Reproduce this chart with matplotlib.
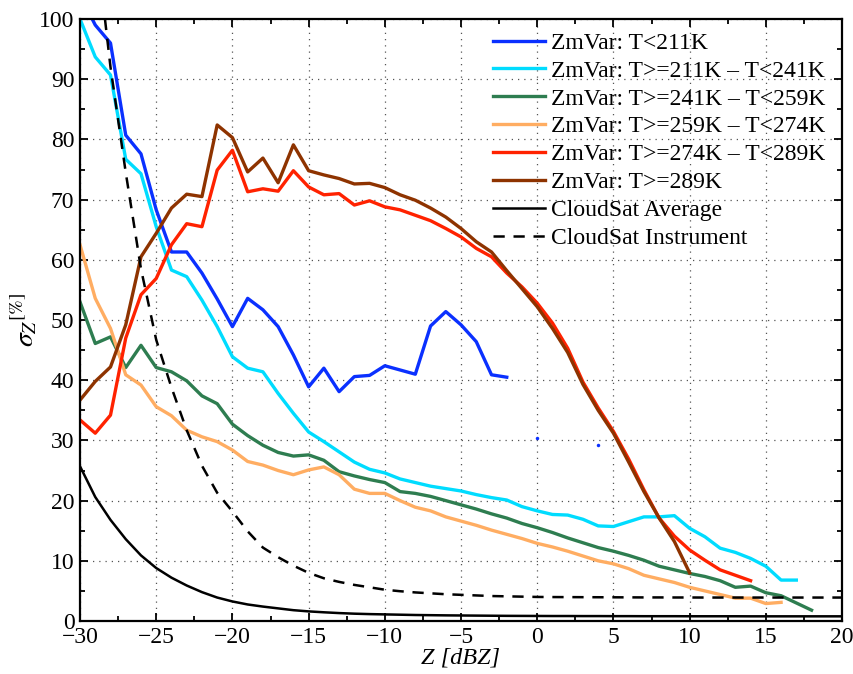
import numpy as np
import matplotlib
matplotlib.use("Agg")
import matplotlib.pyplot as plt
from matplotlib.ticker import MultipleLocator

plt.rcParams["font.family"] = ["Liberation Serif", "DejaVu Serif"]
plt.rcParams["mathtext.fontset"] = "stix"

# reflectivity bins (dBZ) for each temperature class
z_211 = np.arange(-30, 5)
z_241 = np.arange(-30, 18)
z_259 = np.arange(-30, 19)
z_274 = np.arange(-30, 17)
z_289 = np.arange(-30, 15)
z_hot = np.arange(-30, 11)
z_cs = np.arange(-30, 21)

# relative std dev of Z [%]
s_211 = [104, 99, 96, 80.7, 77.6, 68.3, 61.3, 61.3, 57.8, 53.5,
         48.9, 53.6, 51.7, 48.9, 44.2, 38.9, 42, 38.1, 40.6, 40.8,
         42.4, 41.7, 41, 49, 51.4, 49.2, 46.4, 40.9, 40.5, np.nan,
         30.4, np.nan, np.nan, np.nan, 29.3]
s_241 = [100, 93.7, 90.7, 76.7, 74.3, 65.5, 58.3, 57.2, 53.3, 48.9,
         43.9, 42, 41.4, 37.8, 34.5, 31.4, 29.8, 28.1, 26.4, 25.2,
         24.6, 23.6, 23, 22.4, 22, 21.6, 21, 20.5, 20.1, 19,
         18.3, 17.7, 17.6, 16.9, 15.8, 15.7, 16.5, 17.3, 17.3, 17.5,
         15.4, 14, 12.1, 11.4, 10.4, 9.1, 6.8, 6.8]
s_259 = [53, 46.1, 47.2, 42.1, 45.8, 42.1, 41.4, 39.9, 37.4, 36.1,
         32.7, 30.8, 29.2, 28, 27.4, 27.6, 26.7, 24.8, 24.1, 23.5,
         23, 21.5, 21.2, 20.7, 20, 19.3, 18.6, 17.8, 17.1, 16.2,
         15.5, 14.7, 13.8, 13, 12.2, 11.6, 10.9, 10.1, 9.1, 8.5,
         7.9, 7.4, 6.7, 5.6, 5.8, 4.7, 4.2, 3, 1.8]
s_274 = [62.5, 53.6, 48.6, 40.9, 39.2, 35.6, 34.1, 31.7, 30.6, 29.8,
         28.4, 26.5, 25.9, 25, 24.3, 25.1, 25.6, 24.3, 21.9, 21.2,
         21.2, 20, 18.9, 18.3, 17.3, 16.6, 15.9, 15.1, 14.4, 13.7,
         12.9, 12.3, 11.6, 10.8, 10, 9.5, 8.7, 7.6, 7.0, 6.4,
         5.6, 5.0, 4.4, 3.8, 3.8, 2.9, 3.1]
s_289 = [33.4, 31.2, 34.2, 47, 54.2, 56.9, 62.5, 66, 65.5, 74.9,
         78.2, 71.3, 71.8, 71.4, 74.8, 72.1, 70.8, 71, 69.1, 69.8,
         68.8, 68.3, 67.4, 66.5, 65.2, 63.8, 61.9, 60.5, 57.8, 55.5,
         52.8, 49.5, 45.3, 39.7, 35.4, 31.5, 26.9, 21.8, 17.1, 14.1,
         11.8, 10.1, 8.5, 7.6, 6.7]
s_hot = [36.7, 39.8, 42.2, 49.2, 60.5, 64.4, 68.6, 70.9, 70.5, 82.4,
         80.3, 74.6, 76.9, 72.8, 79.1, 74.8, 74.1, 73.5, 72.6, 72.7,
         72, 70.8, 69.9, 68.6, 67.1, 65.2, 63, 61.3, 58.2, 55.2,
         52.2, 48.6, 44.6, 39.3, 35, 31.2, 26.4, 21.5, 17.1, 13.2,
         8.0]
s_avg = [25.7, 20.6, 16.8, 13.6, 10.9, 8.8, 7.2, 5.9, 4.8, 3.9,
         3.25, 2.75, 2.4, 2.1, 1.8, 1.6, 1.45, 1.32, 1.22, 1.15,
         1.1, 1.05, 1.0, 0.97, 0.94, 0.92, 0.9, 0.88, 0.86, 0.85,
         0.84, 0.83, 0.83, 0.82, 0.82, 0.81, 0.81, 0.8, 0.8, 0.8,
         0.79, 0.79, 0.79, 0.79, 0.78, 0.78, 0.78, 0.78, 0.78, 0.78,
         0.78]
s_inst = [141, 114, 92, 74.5, 58.5, 46.7, 38.8, 31.7, 25.8, 21.3,
          18.2, 14.9, 12.2, 10.6, 9.2, 8.0, 7.1, 6.5, 6.0, 5.6,
          5.2, 4.95, 4.75, 4.6, 4.45, 4.35, 4.25, 4.15, 4.1, 4.05,
          4.0, 3.98, 3.97, 3.96, 3.95, 3.94, 3.93, 3.92, 3.92, 3.91,
          3.91, 3.9, 3.9, 3.9, 3.9, 3.9, 3.9, 3.9, 3.9, 3.9,
          3.9]

labels = ["ZmVar: T<211K", "ZmVar: T>=211K \u2013 T<241K",
          "ZmVar: T>=241K \u2013 T<259K", "ZmVar: T>=259K \u2013 T<274K",
          "ZmVar: T>=274K \u2013 T<289K", "ZmVar: T>=289K",
          "CloudSat Average", "CloudSat Instrument"]
colors = ["#0a30ff", "#00dcff", "#2e7d50", "#ffad62", "#ff2200", "#8e3300"]

fig = plt.figure(figsize=(8.54, 6.74), dpi=100)
ax = fig.add_axes([0.0937, 0.0786, 0.8923, 0.8932])

series = [(z_211, s_211), (z_241, s_241), (z_259, s_259),
          (z_274, s_274), (z_289, s_289), (z_hot, s_hot)]
for (zz, ss), c, lab in zip(series, colors, labels):
    ax.plot(zz, ss, color=c, lw=2.4, label=lab)

# lone blue bins that have no neighbours to join to
s = np.array(s_211, dtype=float)
prev = np.r_[np.nan, s[:-1]]
nxt = np.r_[s[1:], np.nan]
lone = ~np.isnan(s) & np.isnan(prev) & np.isnan(nxt)
ax.plot(z_211[lone], s[lone], "o", color=colors[0], ms=2.5, mec="none")

ax.plot(z_cs, s_avg, color="black", lw=1.8, label=labels[6])
ax.plot(z_cs, s_inst, color="black", lw=1.8, ls=(0, (4.5, 3.5)),
        label=labels[7])

ax.set_xlim(-30, 20)
ax.set_ylim(0, 100)
ax.xaxis.set_major_locator(MultipleLocator(5))
ax.xaxis.set_minor_locator(MultipleLocator(2.5))
ax.yaxis.set_major_locator(MultipleLocator(10))
ax.yaxis.set_minor_locator(MultipleLocator(5))
ax.grid(True, which="major", ls=(0, (1, 4)), color="#555555", lw=0.9)
ax.tick_params(which="both", direction="in", top=True, right=True,
               labelsize=17, width=1.3)
ax.tick_params(which="major", length=6, pad=4)
ax.tick_params(which="minor", length=3.5)
for sp in ax.spines.values():
    sp.set_linewidth(1.6)

ax.set_xlabel("Z [dBZ]", fontsize=17.5, style="italic", labelpad=0)
ax.set_ylabel(r"$\sigma_{Z}{}^{[\%]}$", fontsize=20, labelpad=0)

ax.legend(loc="upper left", bbox_to_anchor=(0.542, 0.978), frameon=False,
          fontsize=17, borderpad=0, borderaxespad=0, labelspacing=0.27,
          handlelength=2.2, handletextpad=0.25)

plt.savefig("out.png", dpi=100)
